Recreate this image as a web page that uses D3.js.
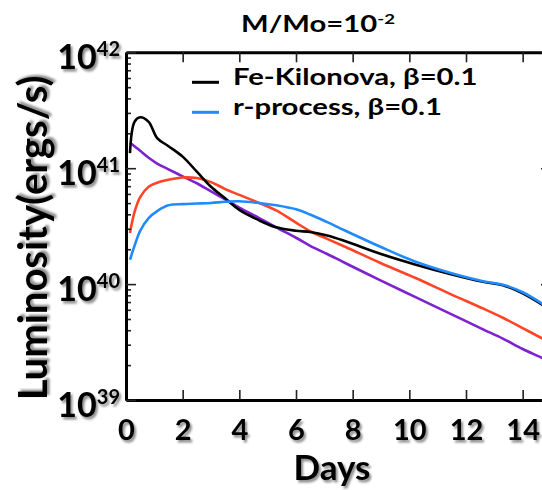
<!DOCTYPE html>
<html>
<head>
<meta charset="utf-8">
<script src="https://cdn.jsdelivr.net/npm/d3@7"></script>
<style>
  body { margin: 0; background: #fff; }
  text { font-family: Lato, "Open Sans", sans-serif; font-weight: bold; fill: #000; }
</style>
</head>
<body>
<div id="root"></div>
<script>
// days since merger, and log10 of luminosity (erg/s) for each model
var days = [0.14, 0.3, 0.5, 0.8, 1.1, 1.5, 2.0, 2.5, 3.0, 3.5, 4.0, 4.7, 5.3,
            6.0, 6.5, 7.1, 7.75, 9.0, 10.2, 11.4, 12.6, 13.3, 14.0, 14.7, 15];
var feKilonova = [41.13, 41.40, 41.44, 41.40, 41.26, 41.19, 41.10, 40.97, 40.84, 40.74, 40.64, 40.55, 40.49,
                  40.46, 40.45, 40.42, 40.37, 40.26, 40.17, 40.09, 40.02, 39.99, 39.92, 39.82, 39.77];
var rProcess = [40.21, 40.33, 40.46, 40.57, 40.63, 40.68, 40.69, 40.695, 40.70, 40.71, 40.715, 40.70, 40.68,
                40.645, 40.60, 40.535, 40.46, 40.32, 40.195, 40.10, 40.025, 39.995, 39.93, 39.83, 39.78];
var redModel = [40.44, 40.62, 40.75, 40.84, 40.875, 40.90, 40.92, 40.915, 40.88, 40.82, 40.77, 40.70, 40.636,
                40.53, 40.456, 40.39, 40.32, 40.18, 40.055, 39.92, 39.79, 39.71, 39.62, 39.53, 39.49];
var purpleModel = [41.22, 41.19, 41.15, 41.09, 41.04, 40.99, 40.93, 40.87, 40.80, 40.73, 40.66, 40.57, 40.49,
                   40.40, 40.33, 40.26, 40.18, 40.03, 39.89, 39.75, 39.61, 39.53, 39.44, 39.36, 39.32];
var xTicks = [0, 2, 4, 6, 8, 10, 12, 14];
var yDecades = [39, 40, 41, 42];
var legendLabels = ["Fe-Kilonova, β=0.1", "r-process, β=0.1"];

var W = 542, H = 490;
var svg = d3.select("#root").append("svg")
    .attr("width", W)
    .attr("height", H);

var defs = svg.append("defs");
defs.append("filter").attr("id", "shadow")
    .attr("x", "-20%").attr("y", "-20%").attr("width", "150%").attr("height", "150%")
    .append("feDropShadow")
    .attr("dx", 2).attr("dy", 2.5)
    .attr("stdDeviation", 1.3)
    .attr("flood-color", "#000")
    .attr("flood-opacity", 0.45);

var x = d3.scaleLinear().domain([0, 15]).range([126, 551]);
var y = d3.scaleLog().domain([1e39, 1e42]).range([400, 52.3]);

defs.append("clipPath").attr("id", "plot")
    .append("rect")
    .attr("x", x(0)).attr("y", y(1e42))
    .attr("width", x(15) - x(0)).attr("height", y(1e39) - y(1e42));

// curves
var line = d3.line()
    .x(function (d, i) { return x(days[i]); })
    .y(function (d) { return y(Math.pow(10, d)); })
    .curve(d3.curveCatmullRom.alpha(0.5));

var series = [
    { vals: purpleModel, color: "#7d22d0" },
    { vals: redModel, color: "#ff4526" },
    { vals: feKilonova, color: "#000000" },
    { vals: rProcess, color: "#1f8bff" }
];

svg.append("g")
    .attr("clip-path", "url(#plot)")
    .selectAll("path")
    .data(series)
    .enter()
    .append("path")
    .attr("d", function (d) { return line(d.vals); })
    .attr("fill", "none")
    .attr("stroke", function (d) { return d.color; })
    .attr("stroke-width", 2.6)
    .attr("stroke-linejoin", "round");

// axes
function styleAxis(g) {
    g.select(".domain").attr("stroke", "#000").attr("stroke-width", 3);
    g.selectAll(".tick line").attr("stroke", "#222").attr("stroke-width", 1.6);
}

var majors = yDecades.map(function (p) { return Math.pow(10, p); });
var minors = y.ticks().filter(function (v) {
    return Math.abs(Math.log10(v) - Math.round(Math.log10(v))) > 1e-6;
});

svg.append("g")
    .attr("transform", "translate(0," + y(1e39) + ")")
    .call(d3.axisBottom(x).tickValues(xTicks).tickSize(-10).tickSizeOuter(0).tickPadding(19))
    .call(styleAxis)
    .call(function (g) {
        g.selectAll(".tick text")
            .attr("font-size", 29)
            .attr("font-family", "Lato, sans-serif")
            .attr("font-weight", "bold")
            .attr("fill", "#000")
            .attr("filter", "url(#shadow)");
    });

svg.append("g")
    .attr("transform", "translate(0," + y(1e42) + ")")
    .call(d3.axisTop(x).tickValues(xTicks).tickSize(-10).tickSizeOuter(0).tickFormat(""))
    .call(styleAxis);

svg.append("g")
    .attr("transform", "translate(" + x(0) + ",0)")
    .call(d3.axisLeft(y).tickValues(minors).tickSize(-5).tickSizeOuter(0).tickFormat(""))
    .call(styleAxis);

var left = svg.append("g")
    .attr("transform", "translate(" + x(0) + ",0)")
    .call(d3.axisLeft(y).tickValues(majors).tickSize(-10).tickSizeOuter(0).tickFormat(""))
    .call(styleAxis);

svg.append("g")
    .attr("transform", "translate(" + x(15) + ",0)")
    .call(d3.axisRight(y).tickValues(majors).tickSize(-10).tickSizeOuter(0).tickFormat(""))
    .call(styleAxis);

// decade labels with superscripts
var lab = left.selectAll(".tick")
    .append("text")
    .attr("x", -6)
    .attr("y", 16)
    .attr("text-anchor", "end")
    .attr("filter", "url(#shadow)");
lab.append("tspan").attr("font-size", 34).text("10");
lab.append("tspan").attr("font-size", 20).attr("dy", -13)
    .text(function (d) { return Math.round(Math.log10(d)); });

// axis titles
svg.append("text")
    .attr("transform", "translate(47,238) rotate(-90)")
    .attr("text-anchor", "middle")
    .attr("font-size", 40)
    .attr("filter", "url(#shadow)")
    .text("Luminosity(ergs/s)");

svg.append("text")
    .attr("x", 332).attr("y", 480)
    .attr("text-anchor", "middle")
    .attr("font-size", 35)
    .attr("filter", "url(#shadow)")
    .text("Days");

// title
var title = svg.append("text")
    .attr("transform", "translate(318,32) scale(1.33,1)")
    .attr("text-anchor", "middle")
    .attr("font-size", 22);
title.append("tspan").text("M/Mo=10");
title.append("tspan").attr("font-size", 14).attr("dy", -8).text("-2");

// legend
var legend = svg.append("g")
    .selectAll("g")
    .data(legendLabels)
    .enter()
    .append("g")
    .attr("transform", function (d, i) { return "translate(192," + (82.3 + i * 30) + ")"; });
legend.append("line")
    .attr("x1", 0).attr("x2", 27)
    .attr("stroke", function (d, i) { return i === 0 ? "#000" : "#1f8bff"; })
    .attr("stroke-width", 3);
legend.append("text")
    .attr("transform", "translate(41,2.6) scale(1.33,1)")
    .attr("font-size", 22)
    .text(function (d) { return d; });
</script>
</body>
</html>
